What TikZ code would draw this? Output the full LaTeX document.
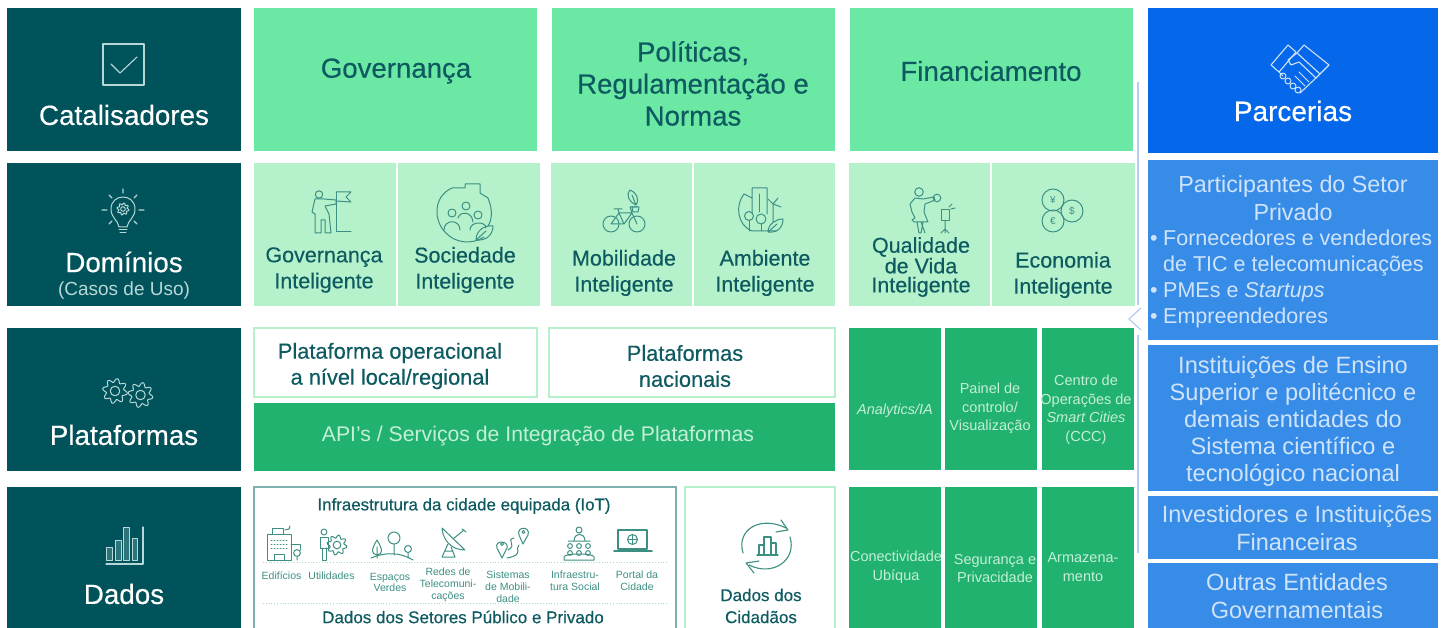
\documentclass[tikz,border=0pt]{standalone}
\usepackage{fontspec}
\setmainfont{Liberation Sans}
\newfontfamily\hv[FakeBold=0.35]{Liberation Sans}
\definecolor{teal}{HTML}{00535A}
\definecolor{mint}{HTML}{6AE8A4}
\definecolor{pale}{HTML}{B5F2CC}
\definecolor{emer}{HTML}{22B26F}
\definecolor{royal}{HTML}{0568EA}
\definecolor{sky}{HTML}{378CE8}
\definecolor{ink}{HTML}{0D5A60}
\definecolor{soft}{HTML}{B8D8D8}
\definecolor{softg}{HTML}{C4EFD8}
\definecolor{softb}{HTML}{CFE3FA}
\definecolor{thin}{HTML}{3D8F84}
\definecolor{grey}{HTML}{7FB0B0}
\definecolor{rail}{HTML}{B5CCF5}
\tikzset{
 fillbox/.style={fill=#1,draw=none,inner sep=0pt,outer sep=0pt},
 framebox/.style={fill=white,draw=#1,line width=1.2pt,inner sep=0pt,outer sep=0pt},
 lbl/.style n args={3}{font=\fontsize{#1}{#2}\selectfont,text=#3,align=center,inner sep=0pt},
 lbh/.style n args={3}{font=\fontsize{#1}{#2}\hv\selectfont,text=#3,align=center,inner sep=0pt},
 lft/.style n args={2}{font=\fontsize{#1}{#1}\selectfont,text=#2,anchor=base west,inner sep=0pt},
 ic/.style={draw=#1,line width=1pt,line join=round,line cap=round},
}
\newcommand\bx[6]{\node[#1,anchor=north west,minimum width={#5-#3},minimum height={#6-#4}] (#2) at (#3,#4) {};}
\newcommand\gearic[4]{\draw[ic=#4] plot[domain=0:360,samples=121,variable=\t,smooth] ({#1+#3*(0.85+0.15*sin(8*\t))*cos(\t)},{#2+#3*(0.85+0.15*sin(8*\t))*sin(\t)}) -- cycle;
 \draw[ic=#4] (#1,#2) circle[radius=#3*0.38];}
\begin{document}
\begin{tikzpicture}[x=1pt,y=-1pt]
\useasboundingbox (0,0) rectangle (1444,628);
\fill[white] (0,0) rectangle (1444,628);
% left column
\bx{fillbox=teal}{cat}{7}{8}{241}{151}
\bx{fillbox=teal}{dom}{7}{163}{241}{306}
\bx{fillbox=teal}{pla}{7}{328}{241}{471}
\bx{fillbox=teal}{dad}{7}{487}{241}{628}
\node[lbh={27.8}{30}{white}] (tcat) at (124,115) {Catalisadores};
\node[lbh={27.8}{30}{white}] (tdom) at (124,262) {Domínios};
\node[lbl={19}{20}{soft}] (tdom2) at (124,290.5) {(Casos de Uso)};
\node[lbh={27.8}{30}{white}] (tpla) at (124,435) {Plataformas};
\node[lbh={27.8}{30}{white}] (tdad) at (124,594) {Dados};
% catalysts
\bx{fillbox=mint}{gov}{254}{8}{537}{151}
\bx{fillbox=mint}{pol}{552}{8}{835}{151}
\bx{fillbox=mint}{fin}{850}{8}{1133}{151}
\node[lbh={27.6}{32}{ink}] (tgov) at (396,71) {Governança};
\node[lbh={27.6}{32}{ink}] (tpol) at (693,83.5) {Políticas,\\Regulamentação e\\Normas};
\node[lbh={27.6}{32}{ink}] (tfin) at (991,71) {Financiamento};
% domains
\bx{fillbox=pale}{d1}{254}{163}{396}{306}
\bx{fillbox=pale}{d2}{398}{163}{540}{306}
\bx{fillbox=pale}{d3}{551}{163}{692}{306}
\bx{fillbox=pale}{d4}{694}{163}{835}{306}
\bx{fillbox=pale}{d5}{849}{163}{990}{306}
\bx{fillbox=pale}{d6}{992}{163}{1135}{306}
\node[lbh={21.5}{26}{ink}] (t1) at (324,270) {Governança\\Inteligente};
\node[lbh={21.5}{26}{ink}] (t2) at (465,270) {Sociedade\\Inteligente};
\node[lbh={21.5}{26}{ink}] (t3) at (624,273) {Mobilidade\\Inteligente};
\node[lbh={21.5}{26}{ink}] (t4) at (765,273) {Ambiente\\Inteligente};
\node[lbh={21.5}{19}{ink}] (t5) at (921,267) {Qualidade\\de Vida\\Inteligente};
\node[lbh={21.5}{26}{ink}] (t6) at (1063,275) {Economia\\Inteligente};
% platforms
\bx{framebox=pale}{p1}{254}{328}{537}{397}
\bx{framebox=pale}{p2}{549}{328}{835}{397}
\bx{fillbox=emer}{p3}{254}{403}{835}{471}
\node[lbh={21.8}{26}{ink}] (tp1) at (390,366) {Plataforma operacional\\a nível local/regional};
\node[lbh={21.8}{26}{ink}] (tp2) at (685,366) {Plataformas\\nacionais};
\node[lbl={21.2}{26}{softg}] (tp3) at (538,436) {API's / Serviços de Integração de Plataformas};
% green columns
\bx{fillbox=emer}{g1}{849}{328}{941}{470}
\bx{fillbox=emer}{g2}{945}{328}{1037}{470}
\bx{fillbox=emer}{g3}{1042}{328}{1134}{470}
\bx{fillbox=emer}{g4}{849}{487}{941}{628}
\bx{fillbox=emer}{g5}{945}{487}{1037}{628}
\bx{fillbox=emer}{g6}{1042}{487}{1134}{628}
\node[lbl={14.5}{18.5}{softg}] (tg1) at (895,411) {\itshape Analytics/IA};
\node[lbl={14.5}{18.5}{softg}] (tg2) at (990,408.5) {Painel de\\controlo/\\Visualização};
\node[lbl={14.5}{18.5}{softg}] (tg3) at (1086,409.5) {Centro de\\Operações de\\\itshape Smart Cities\\(CCC)};
\node[lbl={14.5}{18.5}{softg}] (tg4) at (896,567) {Conectividade\\Ubíqua};
\node[lbl={14.5}{18.5}{softg}] (tg5) at (995,568.5) {Segurança e\\Privacidade};
\node[lbl={14.5}{18.5}{softg}] (tg6) at (1083,567) {Armazena-\\mento};
% data
\bx{framebox=grey}{ifra}{254}{487}{676}{640}
\bx{framebox=pale}{cid}{685}{487}{835}{640}
\node[lbh={16.9}{20}{ink}] (tinf) at (464,506) {Infraestrutura da cidade equipada (IoT)};
\node[lbh={17}{20}{ink}] (tdsp) at (463,617) {Dados dos Setores Público e Privado};
\node[lbh={17}{22}{ink}] (tcid) at (761,606) {Dados dos\\Cidadãos};
\node[lbl={10.5}{12}{thin}] (e1) at (281.5,576) {Edifícios};
\node[lbl={10.5}{12}{thin}] (e2) at (331.5,576) {Utilidades};
\node[lbl={10.5}{11}{thin}] (e3) at (390,582) {Espaços\\Verdes};
\node[lbl={10.5}{12}{thin}] (e4) at (448,585) {Redes de\\Telecomuni-\\cações};
\node[lbl={10.5}{12}{thin}] (e5) at (508,587) {Sistemas\\de Mobili-\\dade};
\node[lbl={10.5}{12}{thin}] (e6) at (575,581) {Infraestru-\\tura Social};
\node[lbl={10.5}{12}{thin}] (e7) at (637,581) {Portal da\\Cidade};
\coordinate (da) at (263,562); \coordinate (db) at (667,562);
\coordinate (dc) at (263,603); \coordinate (dd) at (667,603);
\draw[pale!70!grey,line width=.8pt,dotted] (da) -- (db);
\draw[pale!70!grey,line width=.8pt,dotted] (dc) -- (dd);
% partners
\bx{fillbox=royal}{par}{1148}{8}{1438}{153}
\bx{fillbox=sky}{b1}{1148}{160}{1438}{340}
\bx{fillbox=sky}{b2}{1148}{345}{1438}{491}
\bx{fillbox=sky}{b3}{1148}{496}{1438}{559}
\bx{fillbox=sky}{b4}{1148}{563}{1438}{628}
\node[lbh={28}{30}{white}] (tpar) at (1293,111) {Parcerias};
\node[lbl={23.3}{28}{softb}] (tb1) at (1293,198) {Participantes do Setor\\Privado};
\node[lft={21.5}{softb}] (bl1) at (1150,246) {•};
\node[lft={21.5}{softb}] (bl2) at (1163,246) {Fornecedores e vendedores};
\node[lft={21.5}{softb}] (bl3) at (1163,272) {de TIC e telecomunicações};
\node[lft={21.5}{softb}] (bl4) at (1150,298) {•};
\node[lft={21.5}{softb}] (bl5) at (1163,298) {PMEs e \itshape Startups};
\node[lft={21.5}{softb}] (bl6) at (1150,324) {•};
\node[lft={21.5}{softb}] (bl7) at (1163,324) {Empreendedores};
\node[lbl={23.6}{27}{softb}] (tb2) at (1293,421.5) {Instituições de Ensino\\Superior e politécnico e\\demais entidades do\\Sistema científico e\\tecnológico nacional};
\node[lbl={23.5}{28}{softb}] (tb3) at (1297,528) {Investidores e Instituições\\Financeiras};
\node[lbl={23.5}{28}{softb}] (tb4) at (1297,596) {Outras Entidades\\Governamentais};
% rail and chevron
\coordinate (ra) at (1138,82); \coordinate (rb) at (1138,305);
\coordinate (rc) at (1138,335); \coordinate (rd) at (1138,553);
\coordinate (ca) at (1141,308); \coordinate (cb) at (1129,319); \coordinate (cc) at (1141,330);
\draw[rail,line width=2pt] (ra) -- (rb);
\draw[rail,line width=2pt] (rc) -- (rd);
\draw[rail,line width=1.2pt] (ca) -- (cb) -- (cc);
% icon: check box
\draw[ic=soft,line width=1.4pt] (103,44) rectangle (144,85);
\draw[ic=soft,line width=1.1pt] (111,64) -- (120,73) -- (137,57);
% icon: bulb
\draw[ic=soft] (119,227) .. controls (118,220) and (111,218) .. (111,209) .. controls (111,193) and (135,193) .. (135,209) .. controls (135,218) and (128,220) .. (127,227) -- cycle;
\gearic{123}{209}{6}{soft}
\draw[ic=soft] (119,230) -- (127,230) (120,233) -- (126,233);
\draw[ic=soft,line width=1.2pt] (123,189) -- (123,193) (109,195) -- (112,198) (137,195) -- (134,198)
 (102,210) -- (107,210) (139,210) -- (144,210) (109,224) -- (112,221) (137,224) -- (134,221);
% icon: gears
\gearic{115}{391}{12.5}{soft}
\gearic{140.5}{395}{12.5}{soft}
% icon: bars
\draw[ic=soft,line width=1.1pt] (106,564) -- (143,564) -- (143,527);
\draw[ic=soft,fill=soft!25!teal] (106,547) rectangle (112,560);
\draw[ic=soft,fill=soft!25!teal] (115,540) rectangle (121,560);
\draw[ic=soft,fill=soft!25!teal] (123,527) rectangle (129,560);
\draw[ic=soft,fill=soft!25!teal] (132,538) rectangle (137,560);
% icon: handshake
\draw[ic=softb,line width=1.1pt] (1271,65) -- (1288,45) -- (1296,52) -- (1279,72) -- cycle;
\draw[ic=softb,line width=1.1pt] (1304,45) -- (1329,65) -- (1320,74) -- (1297,53) -- cycle;
\draw[ic=softb,line width=1.1pt] (1297,53) -- (1288,60) -- (1291,65) -- (1299,62) -- (1316,78) -- (1300,93);
\draw[ic=softb,line width=1.1pt] (1320,74) -- (1316,78);
\foreach \hx/\hy in {1283/76,1288/81,1293/86,1298/90}{
 \draw[ic=softb] (\hx,\hy) circle[radius=3];}
\draw[ic=softb] (1279,72) -- (1283,76) (1299,72) -- (1309,82) (1295,76) -- (1305,86);
% icon: governance
\draw[ic=thin] (319,194.5) circle[radius=3.7];
\draw[ic=thin] (315,199) -- (312,212) -- (315,214) -- (315,233) -- (321,233) -- (321,220) -- (325,220) -- (325,233) -- (331,233) -- (329,214) -- (325,206) -- (336,204) -- (336,200) -- (324,199) -- cycle;
\draw[ic=thin] (336,192) -- (336,232) -- (351,232);
\draw[ic=thin] (336,192) -- (351,192) -- (346,197) -- (351,202) -- (336,201);
% icon: society
\draw[ic=thin] (446,233) .. controls (434,222) and (432,197) .. (452,188) -- (465,188) -- (465,184) -- (480,184) -- (480,193) -- (488,198) .. controls (493,210) and (492,220) .. (488,226);
\draw[ic=thin] (446,233) .. controls (455,243) and (472,245) .. (484,237);
\draw[ic=thin] (452,213) circle[radius=4] (466,206) circle[radius=4] (478,215) circle[radius=4];
\draw[ic=thin] (444,230) .. controls (444,219) and (460,219) .. (460,230) (458,218) .. controls (460,211) and (472,211) .. (473,222) (470,230) .. controls (470,221) and (486,221) .. (486,228);
\draw[ic=thin] (476,240) .. controls (476,230) and (485,225) .. (493,226) .. controls (493,235) and (486,241) .. (476,240) -- (486,231);
% icon: bicycle
\draw[ic=thin] (611,224) circle[radius=8] (637,224) circle[radius=8];
\draw[ic=thin] (611,224) -- (619,213) -- (632,213) -- (637,224) (619,213) -- (624,224) -- (632,213) (611,224) -- (624,224) (619,213) -- (618,209) (614,209) -- (622,209) (632,213) -- (630,207) -- (637,207);
\draw[ic=thin] (632,207) -- (639,207) -- (638,212) -- (633,212) -- cycle;
\draw[ic=thin] (636,205) .. controls (628,201) and (626,194) .. (630,190) .. controls (636,192) and (640,199) .. (636,205) -- (632,195);
% icon: environment
\draw[ic=thin] (744,194) .. controls (735,205) and (737,225) .. (752,231) -- (776,231);
\draw[ic=thin] (744,194) -- (752,198) -- (752,214) (752,198) -- (752,188) -- (767,188) -- (767,214);
\draw[ic=thin] (759,194) -- (759,212);
\draw[ic=thin] (749,216) circle[radius=4.5] (761,219) circle[radius=5];
\draw[ic=thin] (749,220) -- (749,231) (761,224) -- (761,231);
\draw[ic=thin] (773,204) -- (773,222) (773,204) -- (768,199) (773,204) -- (778,198) (773,204) -- (781,207);
\draw[ic=thin] (768,232) .. controls (768,224) and (776,219) .. (783,219) .. controls (783,228) and (777,233) .. (768,232) -- (777,224);
% icon: quality of life
\draw[ic=thin] (919,192) circle[radius=4.3];
\draw[ic=thin] (915,198) -- (910,204) -- (912,212) -- (915,218) -- (912,220) -- (914,222) -- (928,222) -- (924,212) -- (925,204) -- (935,200) -- (934,197) -- (923,199) -- cycle;
\draw[ic=thin] (917,222) -- (919,233) -- (921,233) -- (923,222) (921,222) -- (925,233);
\draw[ic=thin] (937,198) circle[radius=3.8];
\draw[ic=thin] (941,210) rectangle (949,221);
\draw[ic=thin] (945,221) -- (945,229) -- (941,233) (945,229) -- (949,233) (945,229) -- (945,233);
\draw[ic=thin] (949,207) -- (952,204) (951,209) -- (955,208);
% icon: coins
\draw[ic=thin] (1053,200) circle[radius=11];
\draw[ic=thin] (1072,211) circle[radius=11];
\draw[ic=thin] (1053,221) circle[radius=11];
\node[lbl={10}{10}{thin}] (cy) at (1053,200) {¥};
\node[lbl={10}{10}{thin}] (cs) at (1072,211) {\$};
\node[lbl={10}{10}{thin}] (ce) at (1053,221) {€};
% icon row: buildings
\draw[ic=thin] (267,534) rectangle (291,560);
\draw[ic=thin] (291,544) -- (300,544) -- (300,550);
\draw[ic=thin] (272,528) rectangle (283,534);
\draw[ic=thin] (274,554) rectangle (284,560);
\draw[ic=thin,dotted] (271,540) -- (288,540) (271,544) -- (288,544) (271,548) -- (288,548);
\draw[ic=thin] (297,553) circle[radius=3.4] (297,556.4) -- (297,560) (285,530) -- (289,529) -- (290,526);
% icon row: worker and gear
\draw[ic=thin] (324,532) circle[radius=3];
\draw[ic=thin] (320,537) rectangle (328,548);
\draw[ic=thin] (322,548) -- (322,560) -- (326,560) -- (326,548);
\gearic{337}{545}{10}{thin}
% icon row: trees
\draw[ic=thin] (371,558) .. controls (385,552) and (400,552) .. (413,560);
\draw[ic=thin] (377,540) .. controls (371,550) and (371,554) .. (377,555) .. controls (383,554) and (383,550) .. (377,540) (377,547) -- (377,558);
\draw[ic=thin] (394,538) circle[radius=6] (394,544) -- (394,555);
\draw[ic=thin] (408,549) circle[radius=3.5] (408,552.5) -- (408,558);
% icon row: dish
\draw[ic=thin] (442,528) .. controls (443,541) and (452,550) .. (465,550) -- cycle;
\draw[ic=thin] (453,539) -- (464,530) (462,529) -- (466,532);
\draw[ic=thin] (448,544) -- (442,557) -- (455,557) -- (451,547) (445,551) -- (453,551);
% icon row: pins
\draw[ic=thin] (502,558) -- (497,548) .. controls (494,540) and (509,540) .. (507,548) -- cycle;
\draw[ic=thin] (523,544) -- (519,535) .. controls (516,526) and (531,526) .. (528,535) -- cycle;
\draw[ic=thin] (502,544) circle[radius=1.5] (523.5,532) circle[radius=1.5];
\draw[ic=thin] (508,550) .. controls (518,545) and (505,540) .. (514,538) (507,558) .. controls (525,555) and (514,548) .. (519,545);
% icon row: people
\draw[ic=thin] (579,530) circle[radius=3] (574,541) .. controls (574,532) and (585,532) .. (585,541) -- cycle (568,541) -- (590,541);
\foreach \px/\py in {570/546,579/546,588/546,570/553,579/553,588/553}{
 \draw[ic=thin] (\px,\py) circle[radius=2.4];}
\draw[ic=thin] (564,560) -- (564,557) .. controls (564,553) and (594,553) .. (594,557) -- (594,560) -- cycle;
% icon row: laptop
\draw[ic=thin,line width=1.2pt] (618,530) rectangle (647,549);
\draw[ic=thin,line width=1.6pt] (614,551) -- (652,551);
\draw[ic=thin] (632.5,539.5) circle[radius=5];
\draw[ic=thin] (632.5,534.5) -- (632.5,544.5) (627.5,539.5) -- (637.5,539.5);
% icon: cycle
\draw[ic=thin,line width=1.1pt] (743,553) .. controls (736,530) and (760,515) .. (786,528);
\draw[ic=thin,line width=1.1pt] (790,537) .. controls (797,560) and (773,577) .. (749,565);
\draw[ic=thin,line width=1.1pt] (781,520) -- (788,530) -- (776,532);
\draw[ic=thin,line width=1.1pt] (754,573) -- (746,563) -- (759,561);
\draw[ic=thin,line width=1.1pt] (757,555) -- (778,555);
\draw[ic=thin,line width=1.1pt] (759,555) -- (759,545) -- (764,545) -- (764,555) (764,555) -- (764,537) -- (771,537) -- (771,555) (771,555) -- (771,543) -- (776,543) -- (776,555);
\end{tikzpicture}
\end{document}
